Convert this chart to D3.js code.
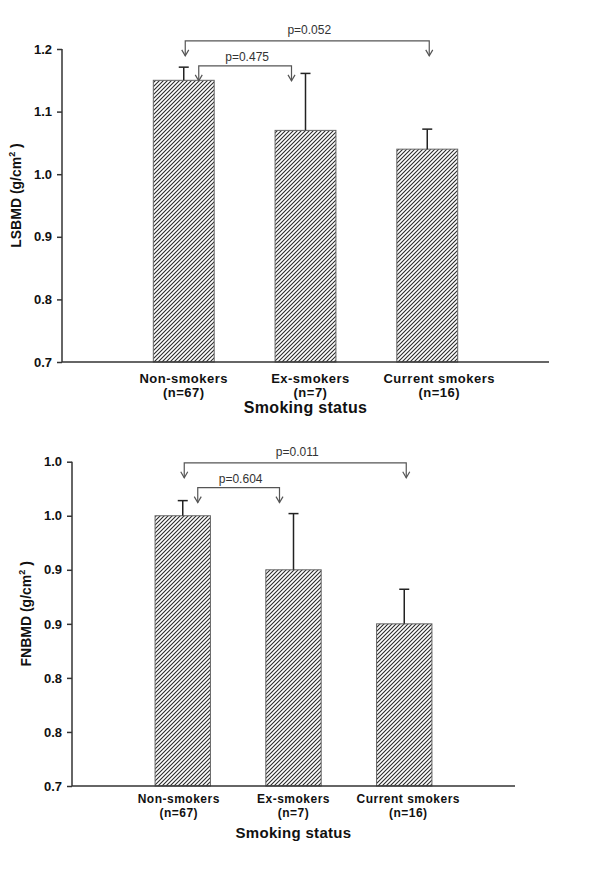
<!DOCTYPE html>
<html>
<head>
<meta charset="utf-8">
<script src="https://cdn.jsdelivr.net/npm/d3@7"></script>
<style>
  html, body { margin: 0; padding: 0; background: #fff; }
  svg { display: block; font-family: "Liberation Sans", Arial, sans-serif; }
</style>
</head>
<body>
<div id="chart"></div>
<script>
// Datos
const categories = ["Non-smokers", "Ex-smokers", "Current smokers"];
const groupSizes = ["(n=67)", "(n=7)", "(n=16)"];

const lsbmdMeans = [1.15, 1.07, 1.04];
const lsbmdErrors = [0.021, 0.091, 0.032];
const lsbmdTicks = [0.7, 0.8, 0.9, 1.0, 1.1, 1.2];
const lsbmdTickLabels = ["0.7", "0.8", "0.9", "1.0", "1.1", "1.2"];
const lsbmdPairs = [[0, 1], [0, 2]];
const lsbmdPValues = ["p=0.475", "p=0.052"];
const lsbmdPLevels = [1.173, 1.213];

const fnbmdMeans = [0.95, 0.90, 0.85];
const fnbmdErrors = [0.014, 0.052, 0.032];
const fnbmdTicks = [0.7, 0.75, 0.8, 0.85, 0.9, 0.95, 1.0];
const fnbmdTickLabels = ["0.7", "0.8", "0.8", "0.9", "0.9", "1.0", "1.0"];
const fnbmdPairs = [[0, 1], [0, 2]];
const fnbmdPValues = ["p=0.604", "p=0.011"];
const fnbmdPLevels = [0.976, 0.999];

const W = 600, H = 870;

const svg = d3.select('#chart').append('svg')
    .attr('width', W)
    .attr('height', H);

svg.append('rect').attr('width', W).attr('height', H).attr('fill', '#fff');

// Patrón de rayas diagonales
const defs = svg.append('defs');
defs.append('pattern')
    .attr('id', 'hatch')
    .attr('patternUnits', 'userSpaceOnUse')
    .attr('width', 4)
    .attr('height', 4)
    .call(p => {
        p.append('rect').attr('width', 4).attr('height', 4).attr('fill', '#fff');
        p.append('path')
            .attr('d', 'M-1,1 l2,-2 M0,4 l4,-4 M3,5 l2,-2')
            .attr('stroke', '#2a2a2a')
            .attr('stroke-width', 1.1);
    });

const drawPanel = (cfg) => {
    const g = svg.append('g');

    const x = d3.scaleLinear().domain([0, categories.length + 1]).range([cfg.left, cfg.right]);
    const y = d3.scaleLinear().domain([cfg.ticks[0], cfg.ticks[cfg.ticks.length - 1]]).range([cfg.bottom, cfg.top]);
    const step = x(1) - x(0);
    const barW = step * 0.5;

    // Barras
    g.append('g').selectAll('rect')
        .data(cfg.means)
        .enter().append('rect')
        .attr('x', (d, i) => x(i + 1) - barW / 2)
        .attr('y', d => y(d))
        .attr('width', barW)
        .attr('height', d => y(cfg.ticks[0]) - y(d))
        .attr('fill', 'url(#hatch)')
        .attr('stroke', '#666')
        .attr('stroke-width', 1);

    // Barras de error (solo hacia arriba)
    const err = g.append('g').selectAll('g')
        .data(cfg.means)
        .enter().append('g')
        .attr('stroke', '#222')
        .attr('stroke-width', 1.5);
    err.append('line')
        .attr('x1', (d, i) => x(i + 1)).attr('x2', (d, i) => x(i + 1))
        .attr('y1', d => y(d))
        .attr('y2', (d, i) => y(d + cfg.errors[i]));
    err.append('line')
        .attr('x1', (d, i) => x(i + 1) - 5).attr('x2', (d, i) => x(i + 1) + 5)
        .attr('y1', (d, i) => y(d + cfg.errors[i]))
        .attr('y2', (d, i) => y(d + cfg.errors[i]));

    // Ejes
    const yAxis = d3.axisLeft(y)
        .tickValues(cfg.ticks)
        .tickFormat((d, i) => cfg.tickLabels[i])
        .tickSize(5)
        .tickPadding(5);
    const ya = g.append('g').attr('transform', `translate(${cfg.left},0)`).call(yAxis);
    ya.select('.domain').attr('stroke', '#333').attr('stroke-width', 1.5).attr('d', `M0,${cfg.bottom}V${cfg.top}`);
    ya.selectAll('.tick line').attr('stroke', '#333').attr('stroke-width', 1.5);
    ya.selectAll('.tick text')
        .attr('font-size', 13)
        .attr('font-weight', 'bold')
        .attr('fill', '#111')
        .attr('font-family', '"Liberation Sans", Arial, sans-serif');

    g.append('line')
        .attr('x1', cfg.left).attr('x2', cfg.right)
        .attr('y1', cfg.bottom).attr('y2', cfg.bottom)
        .attr('stroke', '#333').attr('stroke-width', 1.5);

    // Etiquetas de categorías
    const lab = g.append('g').selectAll('text')
        .data(categories)
        .enter().append('text')
        .attr('text-anchor', 'middle')
        .attr('font-size', cfg.catFont)
        .attr('font-weight', 'bold')
        .attr('letter-spacing', 0.5)
        .attr('fill', '#111');
    lab.append('tspan')
        .attr('x', (d, i) => x(i + 1) + cfg.labelShift[i])
        .attr('y', cfg.bottom + cfg.catDy[0])
        .text(d => d);
    lab.append('tspan')
        .attr('x', (d, i) => x(i + 1) + cfg.labelShift[i])
        .attr('y', cfg.bottom + cfg.catDy[1])
        .text((d, i) => groupSizes[i]);

    g.append('text')
        .attr('x', (cfg.left + cfg.right) / 2)
        .attr('y', cfg.bottom + cfg.catDy[2])
        .attr('text-anchor', 'middle')
        .attr('font-size', cfg.titleFont)
        .attr('font-weight', 'bold')
        .attr('letter-spacing', 0.3)
        .attr('fill', '#111')
        .text('Smoking status');

    // Título eje Y
    const yt = g.append('text')
        .attr('transform', `translate(${cfg.yLabelX},${(cfg.top + cfg.bottom) / 2 - 10}) rotate(-90)`)
        .attr('text-anchor', 'middle')
        .attr('font-size', 14)
        .attr('font-weight', 'bold')
        .attr('fill', '#111');
    yt.append('tspan').text(cfg.yLabel + ' (g/cm');
    yt.append('tspan').attr('font-size', 9).attr('dy', -6).text('2');
    yt.append('tspan').attr('dy', 6).text(' )');

    // Comparaciones con p
    cfg.pairs.forEach((pair, k) => {
        const inner = pair[1] - pair[0] === 1;
        const x1 = x(pair[0] + 1) + (inner ? 15 : 1.5);
        const x2 = x(pair[1] + 1) + (inner ? -14 : 2);
        const ly = y(cfg.pLevels[k]);
        const b = g.append('g');
        b.append('path')
            .attr('d', `M${x1},${ly + 15}V${ly}H${x2}V${ly + 15}`)
            .attr('fill', 'none')
            .attr('stroke', '#555')
            .attr('stroke-width', 1.2);
        [x1, x2].forEach(xx => {
            b.append('path')
                .attr('d', `M${xx - 3.5},${ly + 9} L${xx},${ly + 15} L${xx + 3.5},${ly + 9}`)
                .attr('fill', 'none')
                .attr('stroke', '#555')
                .attr('stroke-width', 1.2);
        });
        b.append('text')
            .attr('x', (x1 + x2) / 2 + 2)
            .attr('y', ly - (inner ? 5 : 7))
            .attr('text-anchor', 'middle')
            .attr('font-size', 12)
            .attr('fill', '#333')
            .text(cfg.pValues[k]);
    });
};

drawPanel({
    left: 62, right: 549, top: 49, bottom: 362,
    means: lsbmdMeans, errors: lsbmdErrors,
    ticks: lsbmdTicks, tickLabels: lsbmdTickLabels,
    pairs: lsbmdPairs, pValues: lsbmdPValues, pLevels: lsbmdPLevels,
    yLabel: 'LSBMD', yLabelX: 21,
    catFont: 13, titleFont: 16, catDy: [21, 35, 51],
    labelShift: [0, 5, 12]
});

drawPanel({
    left: 72, right: 515, top: 461.7, bottom: 786,
    means: fnbmdMeans, errors: fnbmdErrors,
    ticks: fnbmdTicks, tickLabels: fnbmdTickLabels,
    pairs: fnbmdPairs, pValues: fnbmdPValues, pLevels: fnbmdPLevels,
    yLabel: 'FNBMD', yLabelX: 31,
    catFont: 12, titleFont: 15, catDy: [17, 31, 52],
    labelShift: [-4, 0, 4]
});
</script>
</body>
</html>
